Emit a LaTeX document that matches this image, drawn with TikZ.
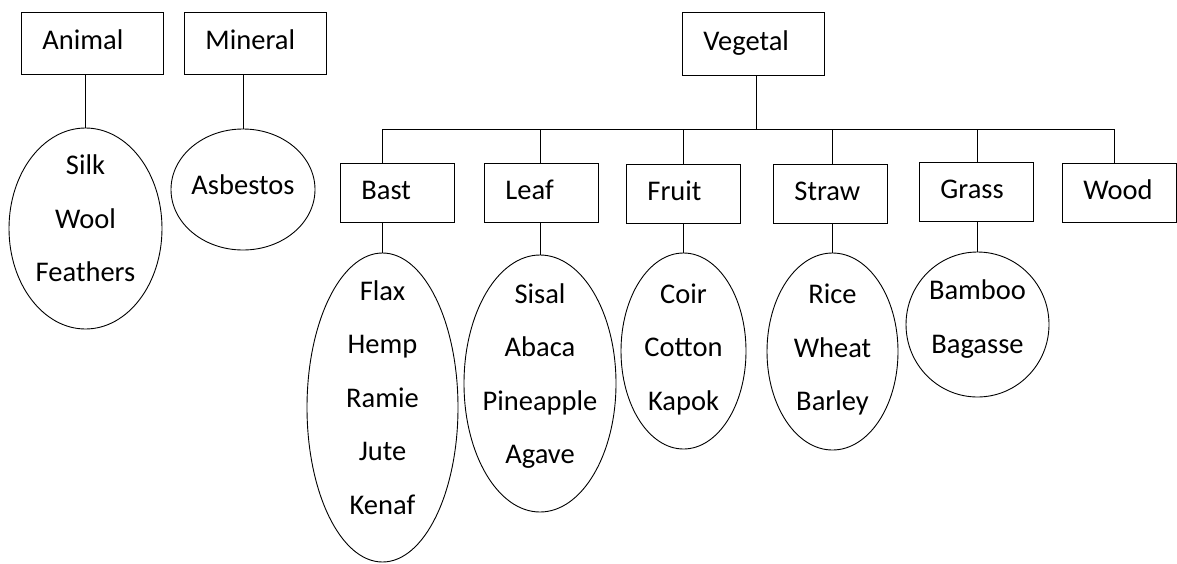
\documentclass[tikz,border=0pt]{standalone}
\usepackage{fontspec}
\setmainfont{Carlito}
\usetikzlibrary{shapes.geometric}
\tikzset{
    groupbox/.style={draw, rectangle, anchor=north west, minimum height=59pt,
        inner xsep=21pt, inner ysep=0pt, text width=72pt, align=left,
        text height=19pt, text depth=6pt},
    widebox/.style={groupbox, text width=100pt, minimum height=62pt},
    fibres/.style={draw, ellipse, inner xsep=-30pt, inner ysep=-70pt, align=center,
        text depth=20pt},
}
\begin{document}
\begin{tikzpicture}[x=1pt, y=-1pt, line width=0.9pt,
    font=\fontsize{28.5pt}{53.5pt}\selectfont]
    	\useasboundingbox (0,0) rectangle (1177,563);

    	% top level
    	\node[widebox] (animal) at (21,12) {Animal};
    	\node[widebox] (mineral) at (184,12) {Mineral};
    	\node[widebox, minimum height=63pt] (vegetal) at (682,12) {Vegetal};

    	% vegetal groups
    	\node[groupbox] (bast) at (340,163) {Bast};
    	\node[groupbox] (leaf) at (484,163) {Leaf};
    	\node[groupbox] (fruit) at (626,164) {Fruit};
    	\node[groupbox] (straw) at (773,164) {Straw};
    	\node[groupbox] (grass) at (919,162) {Grass};
    	\node[groupbox] (wood) at (1062,163) {Wood};

    	% fibre lists
    	\node[fibres, minimum width=153pt, minimum height=201pt] (animallist) at (85.5,228.5) {Silk\\Wool\\Feathers};
    	\node[fibres, minimum width=144pt, minimum height=121pt, text depth=9pt] (minerallist) at (243,189.5) {Asbestos};
    	\node[fibres, minimum width=151pt, minimum height=309pt] (bastlist) at (382.5,407.5) {Flax\\Hemp\\Ramie\\Jute\\Kenaf};
    	\node[fibres, minimum width=152pt, minimum height=257pt] (leaflist) at (540,383.5) {Sisal\\Abaca\\Pineapple\\Agave};
    	\node[fibres, minimum width=125pt, minimum height=196pt, text depth=8pt] (fruitlist) at (683.5,351) {Coir\\Cotton\\Kapok};
    	\node[fibres, minimum width=131pt, minimum height=197pt, text depth=8pt] (strawlist) at (832.5,351.5) {Rice\\Wheat\\Barley};
    	\node[fibres, minimum width=143pt, minimum height=145pt, text depth=16pt] (grasslist) at (977.5,324.5) {Bamboo\\Bagasse};

    	\draw (animallist.north) -- (animallist.north |- animal.south);
    	\draw (minerallist.north) -- (minerallist.north |- mineral.south);

    	% bus under vegetal
    	\coordinate (hub) at (756,129);
    	\coordinate (woodtap) at (1114,129);
    	\draw (hub |- vegetal.south) -- (hub);
    	\draw (bastlist.north |- hub) -- (woodtap) -- (woodtap |- wood.north);
    	\foreach \grp/\lst in {bast/bastlist, leaf/leaflist, fruit/fruitlist, straw/strawlist, grass/grasslist} {
    	    \draw (\lst.north |- hub) -- (\lst.north |- \grp.north);
    	    \draw (\lst.north |- \grp.south) -- (\lst.north);
    	}
    \end{tikzpicture}
\end{document}
